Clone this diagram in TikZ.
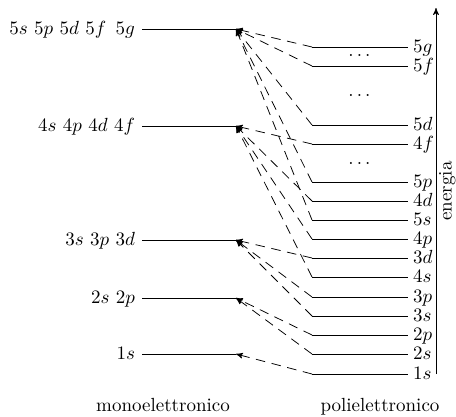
\documentclass[tikz,border=0pt]{standalone}
\usepackage{amsmath}
\usepackage{amssymb}
\usetikzlibrary{arrows}

\begin{document}
\begin{tikzpicture}[x=0.526pt, y=-0.526pt,
    salto/.style={black, dash pattern=on 5pt off 3.5pt, ->, >=stealth'},
    etsx/.style={anchor=base east, inner sep=3.5pt},
    etdx/.style={anchor=base west, inner sep=2.5pt}]
    \useasboundingbox (0,0) rectangle (456,416);
    \foreach \n/\y/\t in {5/29/{$5s\ 5p\ 5d\ 5f\,\ 5g$},4/126/{$4s\ 4p\ 4d\ 4f$},3/240/{$3s\ 3p\ 3d$},2/298/{$2s\ 2p$},1/354/{$1s$}} {
      \coordinate (a\n) at (142,\y);
      \coordinate (m\n) at (236,\y);
      \node[etsx] (e\n) at (142,{\y+5.5}) {\t};
      \draw (a\n) -- (m\n);
    }
    \foreach \n/\y in {5g/47,5f/66,5d/125,4f/144,5p/182,4d/201,5s/220,4p/239,3d/258,4s/277,3p/297,3s/316,2p/335,2s/354,1s/374} {
      \coordinate (p\n) at (312,\y);
      \coordinate (q\n) at (408,\y);
      \node[etdx] (t\n) at (408,{\y+5.5}) {$\n$};
      \draw (p\n) -- (q\n);
    }
    \foreach \a/\b in {5g/5,5f/5,5d/5,5p/5,5s/5,4f/4,4d/4,4p/4,4s/4,3d/3,3p/3,3s/3,2p/2,2s/2,1s/1} {
      \draw[salto] (p\a) -- (m\b);
    }
    \node (d1) at (361,55) {$\dots$};
    \node (d2) at (361,95) {$\dots$};
    \node (d3) at (361,163) {$\dots$};
    \coordinate (base) at (436,374);
    \coordinate (cima) at (436,8);
    \draw[black, ->, >=stealth'] (base) -- (cima);
    \node[rotate=90, anchor=north, inner sep=1.5pt] (en) at (436,191) {energia};
    \node[anchor=base] (mono) at (163,411) {monoelettronico};
    \node[anchor=base] (poli) at (380,411) {polielettronico};
\end{tikzpicture}
\end{document}
